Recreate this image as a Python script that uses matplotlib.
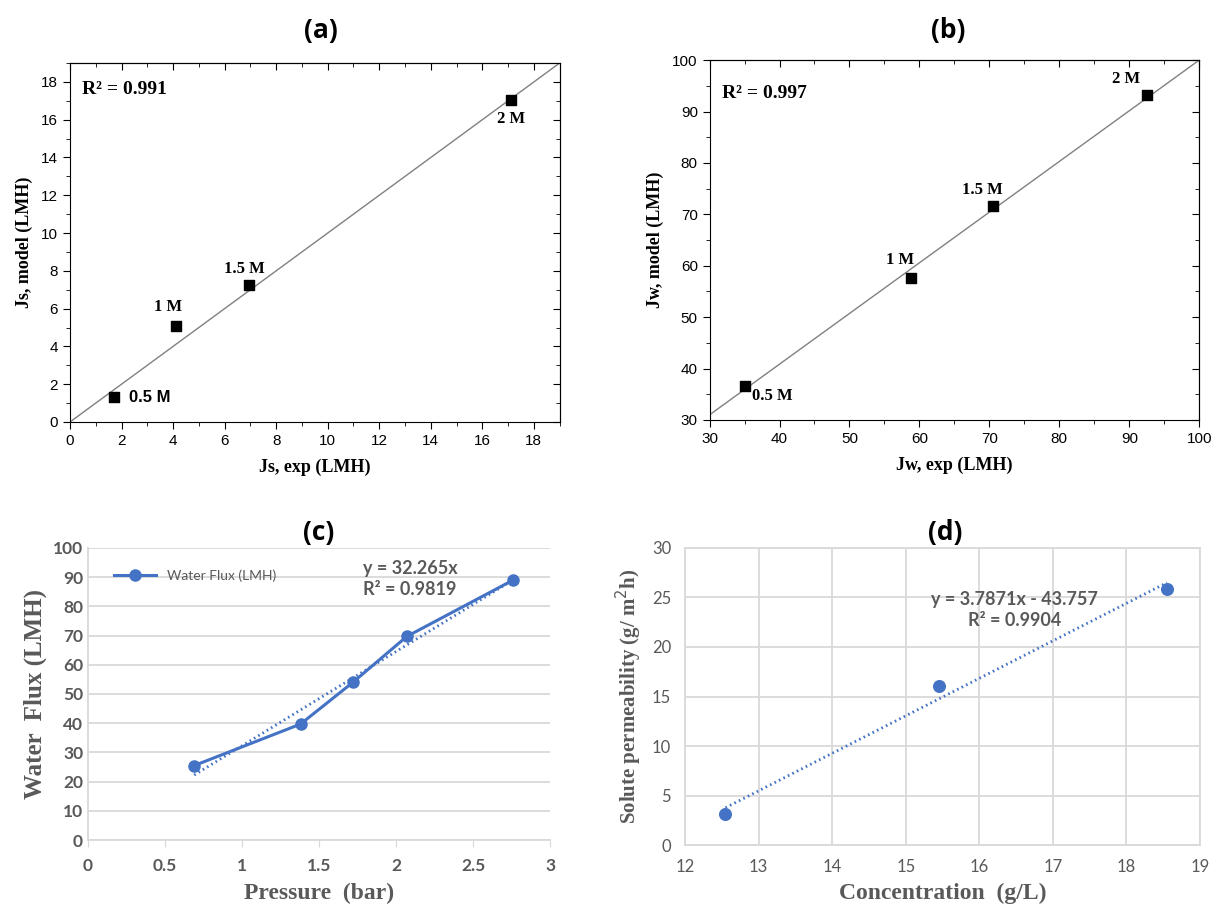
import matplotlib.pyplot as plt
from matplotlib.ticker import MultipleLocator

# (a) solute flux, model vs experiment
js_exp = [1.7, 4.1, 6.95, 17.1]
js_model = [1.3, 5.1, 7.25, 17.05]
js_labels = ["0.5 M", "1 M", "1.5 M", "2 M"]
js_line = [0, 19]

# (b) water flux, model vs experiment
jw_exp = [35.0, 58.8, 70.5, 92.5]
jw_model = [36.7, 57.7, 71.6, 93.2]
jw_labels = ["0.5 M", "1 M", "1.5 M", "2 M"]
jw_line_x = [30, 100]
jw_line_y = [31, 100]

# (c) water flux vs pressure
pressure = [0.69, 1.38, 1.72, 2.07, 2.76]
water_flux = [25.5, 39.7, 54.0, 69.7, 89.0]
flux_slope = 32.265

# (d) solute permeability vs concentration
conc = [12.55, 15.45, 18.55]
solute_perm = [3.1, 16.1, 25.9]
perm_slope = 3.7871
perm_icpt = -43.757

SERIF = "Liberation Serif"
SANS = "Liberation Sans"
XL = "Lato"
BLUE = "#4472c4"
GRAY = "#595959"

plt.rcParams["font.family"] = SANS

fig = plt.figure(figsize=(12.15, 9.11), dpi=100)


def origin_style(ax):
    ax.tick_params(which="both", direction="out", labelsize=11)
    ax.tick_params(which="major", length=5)
    ax.tick_params(which="minor", length=3)
    top = ax.secondary_xaxis("top")
    right = ax.secondary_yaxis("right")
    for a in (top, right):
        a.tick_params(which="both", direction="in", labeltop=False, labelright=False)
        a.tick_params(which="major", length=5)
        a.tick_params(which="minor", length=3)
    top.xaxis.set_major_locator(ax.xaxis.get_major_locator())
    top.xaxis.set_minor_locator(ax.xaxis.get_minor_locator())
    right.yaxis.set_major_locator(ax.yaxis.get_major_locator())
    right.yaxis.set_minor_locator(ax.yaxis.get_minor_locator())
    top.set_xticklabels([])
    right.set_yticklabels([])


def panel_title(x, y, s):
    fig.text(x, y, s, ha="center", va="center", fontsize=19, weight="bold",
             family="Open Sans")


# ---- (a)
ax = fig.add_axes([0.0576, 0.5368, 0.403, 0.394])
ax.plot(js_line, js_line, color="#808080", lw=1)
ax.scatter(js_exp, js_model, marker="s", s=45, color="black", zorder=3)
ax.set_xlim(0, 19)
ax.set_ylim(0, 19)
ax.xaxis.set_major_locator(MultipleLocator(2))
ax.xaxis.set_minor_locator(MultipleLocator(1))
ax.yaxis.set_major_locator(MultipleLocator(2))
ax.yaxis.set_minor_locator(MultipleLocator(1))
origin_style(ax)
offs = [(0.6, 0, "left", "center"), (-0.3, 0.55, "center", "bottom"),
        (-0.2, 0.45, "center", "bottom"), (0.0, -0.6, "center", "top")]
for x, y, lab, (dx, dy, ha, va) in zip(js_exp, js_model, js_labels, offs):
    ax.text(x + dx, y + dy, lab, family=SERIF if lab != "0.5 M" else SANS,
            weight="bold", fontsize=12, ha=ha, va=va)
ax.text(0.025, 0.95, "R² = 0.991", transform=ax.transAxes, family=SERIF,
        weight="bold", fontsize=14, va="top")
ax.set_xlabel("Js, exp (LMH)", family=SERIF, weight="bold", fontsize=13, labelpad=8)
ax.set_ylabel("Js, model (LMH)", family=SERIF, weight="bold", fontsize=13, labelpad=6)
panel_title(0.264, 0.966, "(a)")

# ---- (b)
ax = fig.add_axes([0.584, 0.539, 0.403, 0.395])
ax.plot(jw_line_x, jw_line_y, color="#808080", lw=1)
ax.scatter(jw_exp, jw_model, marker="s", s=45, color="black", zorder=3)
ax.set_xlim(30, 100)
ax.set_ylim(30, 100)
ax.xaxis.set_major_locator(MultipleLocator(10))
ax.xaxis.set_minor_locator(MultipleLocator(5))
ax.yaxis.set_major_locator(MultipleLocator(10))
ax.yaxis.set_minor_locator(MultipleLocator(5))
origin_style(ax)
offs = [(1.0, -2.0, "left", "center"), (-1.5, 1.8, "center", "bottom"),
        (-1.5, 1.6, "center", "bottom"), (-3.0, 1.5, "center", "bottom")]
for x, y, lab, (dx, dy, ha, va) in zip(jw_exp, jw_model, jw_labels, offs):
    ax.text(x + dx, y + dy, lab, family=SERIF, weight="bold", fontsize=12, ha=ha, va=va)
ax.text(0.025, 0.93, "R² = 0.997", transform=ax.transAxes, family=SERIF,
        weight="bold", fontsize=14, va="top")
ax.set_xlabel("Jw, exp (LMH)", family=SERIF, weight="bold", fontsize=13, labelpad=8)
ax.set_ylabel("Jw, model (LMH)", family=SERIF, weight="bold", fontsize=13, labelpad=6)
panel_title(0.78, 0.966, "(b)")


def excel_style(ax, full_grid=False):
    for s in ("top", "right"):
        ax.spines[s].set_visible(full_grid)
    for s in ax.spines.values():
        s.set_color("#d9d9d9")
        s.set_linewidth(1.3)
    ax.grid(axis="y" if not full_grid else "both", color="#d9d9d9", lw=1.3)
    ax.set_axisbelow(True)
    ax.tick_params(colors="#d9d9d9", labelcolor=GRAY, labelsize=12)
    for t in ax.get_xticklabels() + ax.get_yticklabels():
        t.set_family(XL)


# ---- (c)
ax = fig.add_axes([0.0724, 0.0779, 0.3803, 0.3206])
ax.plot(pressure, water_flux, color=BLUE, lw=2.2, marker="o", ms=8,
        label="Water Flux (LMH)")
fx = [pressure[0], pressure[-1]]
ax.plot(fx, [flux_slope * v for v in fx], color=BLUE, lw=2, ls=(0, (0.6, 1.2)))
ax.set_xlim(0, 3)
ax.set_ylim(0, 100)
ax.xaxis.set_major_locator(MultipleLocator(0.5))
ax.yaxis.set_major_locator(MultipleLocator(10))
ax.xaxis.set_major_formatter(lambda v, p: f"{v:g}")
excel_style(ax)
ax.tick_params(labelsize=12.5)
ax.tick_params(axis="y", length=0)
ax.tick_params(axis="x", length=5, pad=8)
for t in ax.get_xticklabels() + ax.get_yticklabels():
    t.set_weight("bold")
ax.legend(loc="upper left", bbox_to_anchor=(0.03, 0.97), frameon=False,
          prop={"family": XL, "size": 10}, labelcolor=GRAY, handlelength=3)
ax.text(0.595, 0.895, "y = 32.265x\nR² = 0.9819", transform=ax.transAxes,
        family=XL, weight="bold", fontsize=13, color=GRAY, va="center", linespacing=1.3)
ax.set_xlabel("Pressure  (bar)", family=SERIF, weight="bold", fontsize=17,
              color=GRAY, labelpad=6)
ax.set_ylabel("Water  Flux (LMH)", family=SERIF, weight="bold", fontsize=18,
              color=GRAY, labelpad=4)
panel_title(0.262, 0.415, "(c)")

# ---- (d)
ax = fig.add_axes([0.5638, 0.0724, 0.4239, 0.3261])
ax.scatter(conc, solute_perm, color=BLUE, s=70, zorder=3)
cx = [conc[0], conc[-1]]
ax.plot(cx, [perm_slope * v + perm_icpt for v in cx], color=BLUE, lw=2,
        ls=(0, (0.6, 1.2)))
ax.set_xlim(12, 19)
ax.set_ylim(0, 30)
ax.xaxis.set_major_locator(MultipleLocator(1))
ax.yaxis.set_major_locator(MultipleLocator(5))
excel_style(ax, full_grid=True)
ax.tick_params(length=0, pad=10, labelsize=12)
ax.text(0.64, 0.79, "y = 3.7871x - 43.757\nR² = 0.9904", transform=ax.transAxes,
        family=XL, weight="bold", fontsize=13, color=GRAY, ha="center", va="center",
        linespacing=1.3)
ax.set_xlabel("Concentration  (g/L)", family=SERIF, weight="bold", fontsize=17,
              color=GRAY, labelpad=6)
ax.set_ylabel("Solute permeability (g/ m$^2$h)", family=SERIF, weight="bold",
              fontsize=15, color=GRAY, labelpad=6)
panel_title(0.778, 0.415, "(d)")

fig.savefig("out.png", dpi=100, facecolor="white")
